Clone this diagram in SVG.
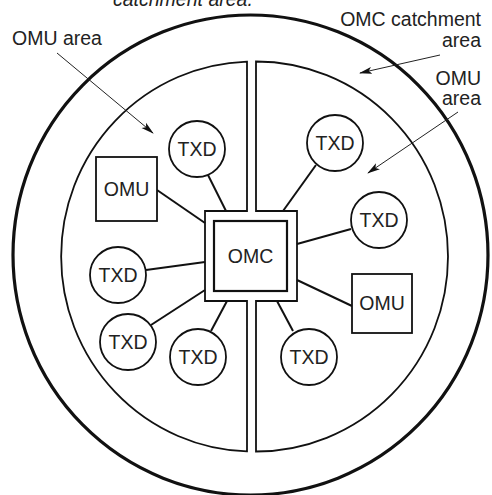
<svg xmlns="http://www.w3.org/2000/svg" width="492" height="495" viewBox="0 0 492 495">
  <style>
    .area { fill: none; stroke: #111; stroke-width: 1.8; stroke-linejoin: miter; }
    .rim { fill: none; stroke: #111; stroke-width: 3.2; }
    .node { fill: #fff; stroke: #111; stroke-width: 1.8; }
    .link { stroke: #111; stroke-width: 2; fill: none; }
    .pointer { stroke: #222; stroke-width: 1; fill: none; }
    .lbl { font-family: "Liberation Sans", Arial, sans-serif; font-size: 19.5px; fill: #222; }
    .mid { text-anchor: middle; }
    .end { text-anchor: end; }
  </style>
  <defs>
    <marker id="ah" markerWidth="13" markerHeight="8" refX="12" refY="4" orient="auto" markerUnits="userSpaceOnUse">
      <path d="M0,0.5 L13,4 L0,7.5 L3,4 Z" fill="#111"/>
    </marker>
  </defs>
  <rect width="492" height="495" fill="#fff"/>

  <!-- OMC catchment boundary -->
  <ellipse class="rim" cx="250.5" cy="255" rx="237.5" ry="240"/>

  <!-- OMU areas: two half-discs notched around the OMC -->
  <g id="omu-area-left">
    <path class="area" d="M247,61.6 A192,195 0 0 0 247,451.4 L247,301 L205,301 L205,211 L247,211 Z"/>
  </g>
  <g id="omu-area-right">
    <path class="area" d="M256,61.5 A192,195 0 0 1 256,451.5 L256,301 L297,301 L297,211 L256,211 Z"/>
  </g>

  <!-- links between the OMC and its units -->
  <g id="connectors">
    <line class="link" x1="208" y1="175" x2="226" y2="211"/>
    <line class="link" x1="157" y1="190" x2="205" y2="223"/>
    <line class="link" x1="316" y1="165" x2="283" y2="211"/>
    <line class="link" x1="351" y1="229" x2="297" y2="244"/>
    <line class="link" x1="146" y1="270" x2="205" y2="262"/>
    <line class="link" x1="151" y1="325" x2="205" y2="290"/>
    <line class="link" x1="211" y1="331" x2="227" y2="301"/>
    <line class="link" x1="293" y1="331" x2="277" y2="301"/>
    <line class="link" x1="352" y1="306" x2="297" y2="280"/>
    <!-- label pointers -->
    <line class="pointer" x1="57" y1="53" x2="153" y2="133" marker-end="url(#ah)"/>
    <line class="pointer" x1="440" y1="55" x2="360" y2="73" marker-end="url(#ah)"/>
    <line class="pointer" x1="458" y1="112" x2="368" y2="173" marker-end="url(#ah)"/>
  </g>

  <g id="omc">
    <rect class="node" x="214" y="221" width="73" height="70" style="stroke-width:2.2"/>
    <text class="lbl mid" x="250.5" y="263">OMC</text>
  </g>

  <g id="omu-left">
    <rect class="node" x="96" y="157" width="61" height="64"/>
    <text class="lbl mid" x="126.5" y="196">OMU</text>
  </g>
  <g id="omu-right">
    <rect class="node" x="352" y="274" width="60" height="59"/>
    <text class="lbl mid" x="382" y="310">OMU</text>
  </g>

  <g id="txd-1"><circle class="node" cx="197" cy="149" r="28"/><text class="lbl mid" x="197" y="156">TXD</text></g>
  <g id="txd-2"><circle class="node" cx="335" cy="143" r="28"/><text class="lbl mid" x="335" y="150">TXD</text></g>
  <g id="txd-3"><circle class="node" cx="379" cy="220" r="28"/><text class="lbl mid" x="379" y="227">TXD</text></g>
  <g id="txd-4"><circle class="node" cx="118" cy="275" r="28"/><text class="lbl mid" x="118" y="282">TXD</text></g>
  <g id="txd-5"><circle class="node" cx="128" cy="342" r="28"/><text class="lbl mid" x="128" y="349">TXD</text></g>
  <g id="txd-6"><circle class="node" cx="198" cy="357" r="28"/><text class="lbl mid" x="198" y="364">TXD</text></g>
  <g id="txd-7"><circle class="node" cx="309" cy="357" r="28"/><text class="lbl mid" x="309" y="364">TXD</text></g>

  <!-- captions -->
  <g id="captions">
    <text class="lbl" x="113" y="6" font-style="italic" font-size="21">catchment area.</text>
    <text class="lbl" x="12" y="45">OMU area</text>
    <text class="lbl end" x="481" y="26">OMC catchment</text>
    <text class="lbl end" x="481" y="47">area</text>
    <text class="lbl end" x="481" y="85">OMU</text>
    <text class="lbl end" x="481" y="105">area</text>
  </g>
</svg>
